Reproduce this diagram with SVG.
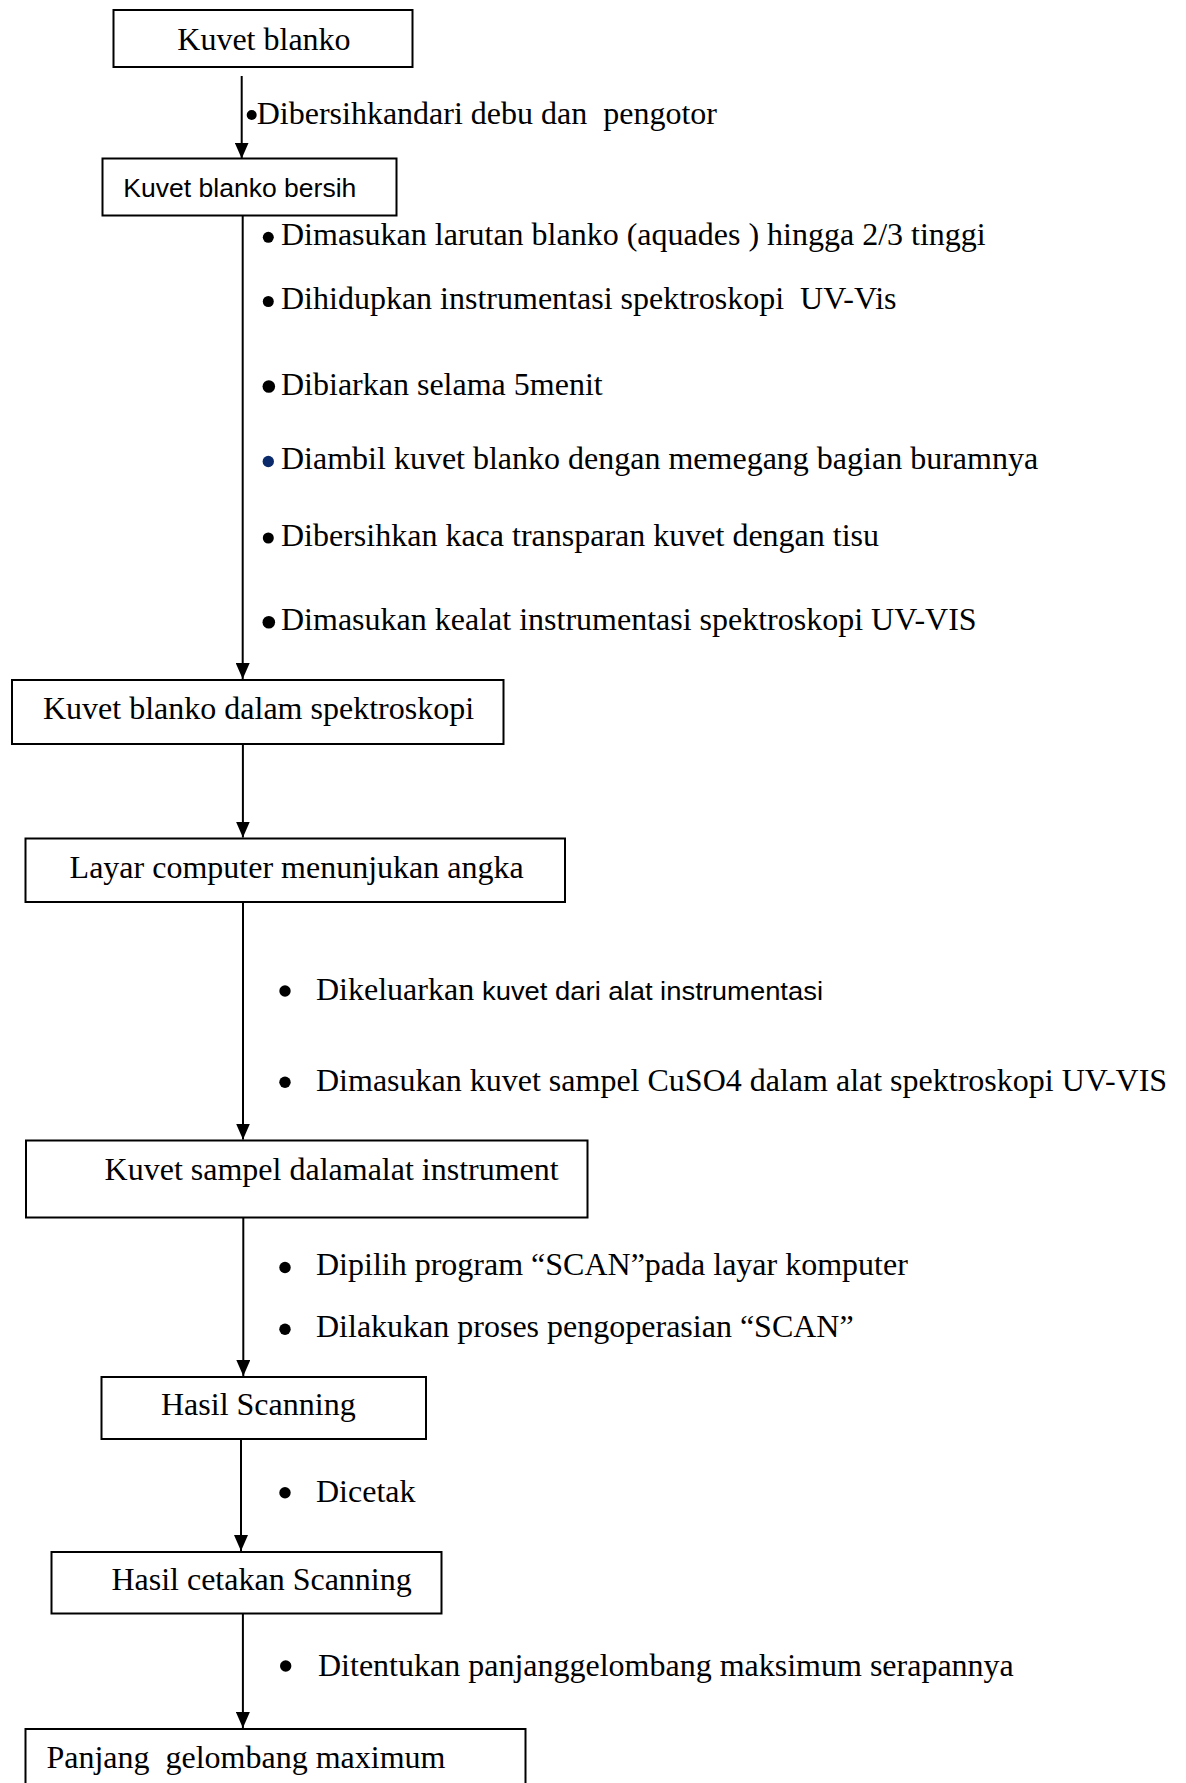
<svg xmlns="http://www.w3.org/2000/svg" width="1186" height="1783" viewBox="0 0 1186 1783">
<style>
.box{fill:#fff;stroke:#000;stroke-width:2}
.t{font-family:"Liberation Serif","Times New Roman",serif;font-size:32px;fill:#000}
.s{font-family:"Liberation Sans",Arial,sans-serif;font-size:26.5px;fill:#000}
.c{stroke:#000;stroke-width:2;fill:none}
.dot{fill:#000}
</style>
<defs>
<marker id="ah" viewBox="0 0 16 14" refX="16" refY="7" markerWidth="16" markerHeight="14" markerUnits="userSpaceOnUse" orient="auto">
<path d="M0,0 L16,7 L0,14 Z" fill="#000"/>
</marker>
</defs>
<rect width="1186" height="1783" fill="#fff"/>
<g id="connectors">
<line class="c" x1="241.7" y1="76" x2="241.7" y2="158.5" marker-end="url(#ah)"/>
<line class="c" x1="242.7" y1="216" x2="242.7" y2="679" marker-end="url(#ah)"/>
<line class="c" x1="242.9" y1="744" x2="242.9" y2="837.5" marker-end="url(#ah)"/>
<line class="c" x1="243" y1="902" x2="243" y2="1139.5" marker-end="url(#ah)"/>
<line class="c" x1="243.3" y1="1218" x2="243.3" y2="1376" marker-end="url(#ah)"/>
<line class="c" x1="241" y1="1439" x2="241" y2="1551" marker-end="url(#ah)"/>
<line class="c" x1="242.9" y1="1613.5" x2="242.9" y2="1728" marker-end="url(#ah)"/>
</g>
<g id="n1"><rect class="box" x="113.5" y="10" width="299" height="57"/><text class="t" x="177.3" y="50">Kuvet blanko</text></g>
<g id="n2"><rect class="box" x="102.5" y="158.5" width="294" height="57"/><text class="s" x="123.3" y="196.7" textLength="233" lengthAdjust="spacingAndGlyphs">Kuvet blanko bersih</text></g>
<g id="n3"><rect class="box" x="12" y="680" width="491.5" height="64"/><text class="t" x="43" y="719.3">Kuvet blanko dalam spektroskopi</text></g>
<g id="n4"><rect class="box" x="25.5" y="838.5" width="539.5" height="63.5"/><text class="t" x="69.6" y="877.7">Layar computer menunjukan angka</text></g>
<g id="n5"><rect class="box" x="26" y="1140.5" width="561.5" height="77"/><text class="t" x="104.6" y="1180">Kuvet sampel dalamalat instrument</text></g>
<g id="n6"><rect class="box" x="101.5" y="1377" width="324.5" height="62"/><text class="t" x="161" y="1415">Hasil Scanning</text></g>
<g id="n7"><rect class="box" x="51.5" y="1552" width="390" height="61.5"/><text class="t" x="111.4" y="1590">Hasil cetakan Scanning</text></g>
<g id="n8"><rect class="box" x="25.5" y="1729" width="500" height="70"/><text class="t" x="46.4" y="1768.3" xml:space="preserve">Panjang  gelombang maximum</text></g>
<g id="labels">
<circle class="dot" cx="251.7" cy="115" r="5"/>
<text class="t" x="256.7" y="124" xml:space="preserve">Dibersihkandari debu dan  pengotor</text>
<circle class="dot" cx="268.3" cy="237.3" r="5.5"/>
<text class="t" x="281" y="245">Dimasukan larutan blanko (aquades ) hingga 2/3 tinggi</text>
<circle class="dot" cx="268.3" cy="301.5" r="5.5"/>
<text class="t" x="281" y="309" xml:space="preserve">Dihidupkan instrumentasi spektroskopi  UV-Vis</text>
<circle class="dot" cx="268.8" cy="386.5" r="6.3"/>
<text class="t" x="281" y="394.6">Dibiarkan selama 5menit</text>
<circle cx="268.3" cy="461.5" r="5.7" fill="#0b2a6b"/>
<text class="t" x="281" y="469.3">Diambil kuvet blanko dengan memegang bagian buramnya</text>
<circle class="dot" cx="268.3" cy="538" r="5.5"/>
<text class="t" x="281" y="546">Dibersihkan kaca transparan kuvet dengan tisu</text>
<circle class="dot" cx="268.8" cy="622.3" r="6.3"/>
<text class="t" x="281" y="630.4">Dimasukan kealat instrumentasi spektroskopi UV-VIS</text>
<circle class="dot" cx="285" cy="991" r="5.7"/>
<text class="t" x="316" y="1000">Dikeluarkan</text>
<text class="s" x="482" y="1000" textLength="341" lengthAdjust="spacingAndGlyphs">kuvet dari alat instrumentasi</text>
<circle class="dot" cx="285" cy="1082.3" r="5.7"/>
<text class="t" x="316" y="1090.7">Dimasukan kuvet sampel CuSO4 dalam alat spektroskopi UV-VIS</text>
<circle class="dot" cx="285" cy="1267.5" r="5.7"/>
<text class="t" x="316" y="1275.3">Dipilih program “SCAN”pada layar komputer</text>
<circle class="dot" cx="285" cy="1329.3" r="5.7"/>
<text class="t" x="316" y="1337.3">Dilakukan proses pengoperasian “SCAN”</text>
<circle class="dot" cx="285" cy="1492.7" r="5.7"/>
<text class="t" x="316" y="1501.7">Dicetak</text>
<circle class="dot" cx="285.7" cy="1666" r="5.7"/>
<text class="t" x="318" y="1676">Ditentukan panjanggelombang maksimum serapannya</text>
</g>
</svg>
